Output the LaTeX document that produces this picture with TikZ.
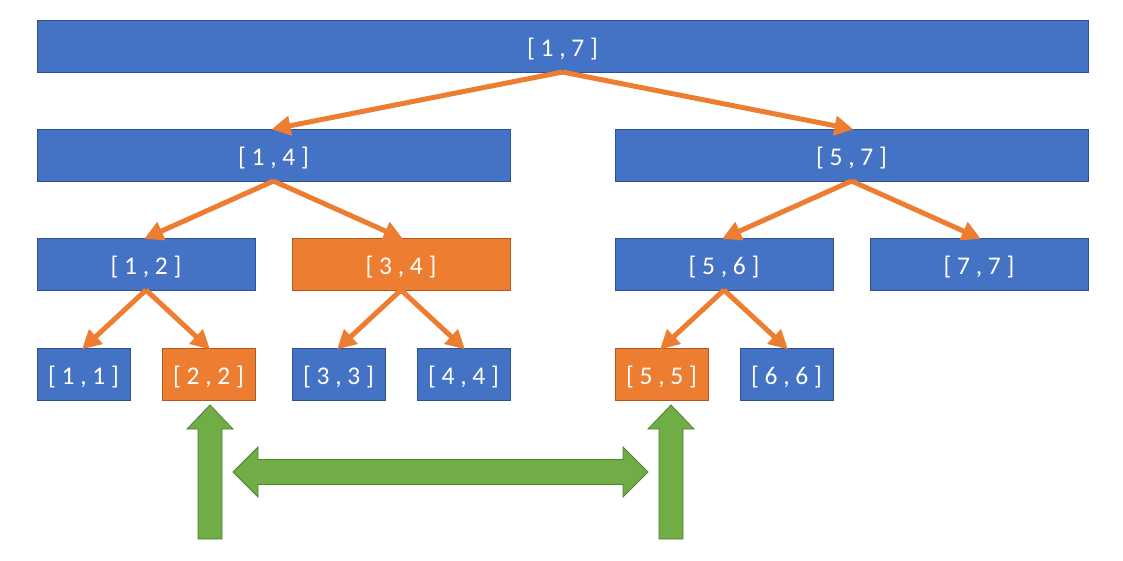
\documentclass[tikz,border=0pt]{standalone}
\usepackage{fontspec}
\setmainfont{Carlito}
\usetikzlibrary{arrows.meta}
\definecolor{bfill}{HTML}{4472C4}
\definecolor{bdraw}{HTML}{2F528F}
\definecolor{ofill}{HTML}{ED7D31}
\definecolor{odraw}{HTML}{AE5A21}
\definecolor{gfill}{HTML}{70AD47}
\definecolor{gdraw}{HTML}{507E32}
\tikzset{
  seg/.style={rectangle, inner sep=0pt, outer sep=0pt, line width=0.8pt, text=white,
     font=\fontsize{25.5}{30}\selectfont, minimum height=52pt, text height=24pt, text depth=4pt},
  bluebox/.style={seg, fill=bfill, draw=bdraw},
  orangebox/.style={seg, fill=ofill, draw=odraw},
  link/.style={draw=ofill, line width=5pt, -{Triangle[length=19pt,width=19pt]}, shorten >=-2pt},
  greenarrow/.style={fill=gfill, draw=gdraw, line width=0.8pt, line join=miter},
}
\begin{document}
\begin{tikzpicture}[x=1pt,y=-1pt]
\useasboundingbox (0,0) rectangle (1123,560);
% level 1
\node[bluebox, minimum width=1051pt] (n17) at (562.5,46) {[ 1 , 7 ]};
% level 2
\node[bluebox, minimum width=473pt] (n14) at (273.5,155) {[ 1 , 4 ]};
\node[bluebox, minimum width=473pt] (n57) at (851.5,155) {[ 5 , 7 ]};
% level 3
\node[bluebox, minimum width=218pt] (n12) at (146,264) {[ 1 , 2 ]};
\node[orangebox, minimum width=218pt] (n34) at (401,264) {[ 3 , 4 ]};
\node[bluebox, minimum width=218pt] (n56) at (724,264) {[ 5 , 6 ]};
\node[bluebox, minimum width=218pt] (n77) at (979,264) {[ 7 , 7 ]};
% level 4
\node[bluebox, minimum width=93pt] (n11) at (83.5,374) {[ 1 , 1 ]};
\node[orangebox, minimum width=93pt] (n22) at (208.5,374) {[ 2 , 2 ]};
\node[bluebox, minimum width=93pt] (n33) at (338.5,374) {[ 3 , 3 ]};
\node[bluebox, minimum width=93pt] (n44) at (463.5,374) {[ 4 , 4 ]};
\node[orangebox, minimum width=93pt] (n55) at (661.5,374) {[ 5 , 5 ]};
\node[bluebox, minimum width=93pt] (n66) at (786.5,374) {[ 6 , 6 ]};
% links
\draw[link] (n17.south) -- (n14.north);
\draw[link] (n17.south) -- (n57.north);
\draw[link] (n14.south) -- (n12.north);
\draw[link] (n14.south) -- (n34.north);
\draw[link] (n57.south) -- (n56.north);
\draw[link] (n57.south) -- (n77.north);
\draw[link] (n12.south) -- (n11.north);
\draw[link] (n12.south) -- (n22.north);
\draw[link] (n34.south) -- (n33.north);
\draw[link] (n34.south) -- (n44.north);
\draw[link] (n56.south) -- (n55.north);
\draw[link] (n56.south) -- (n66.north);
% green arrows
\draw[greenarrow] (210,405) -- (233,429) -- (222,429) -- (222,539) -- (198,539) -- (198,429) -- (187,429) -- cycle;
\draw[greenarrow] (671,405) -- (694,429) -- (683,429) -- (683,539) -- (659,539) -- (659,429) -- (648,429) -- cycle;
\draw[greenarrow] (233,472) -- (258,447) -- (258,459.5) -- (623,459.5) -- (623,447) -- (648,472) -- (623,497) -- (623,484.5) -- (258,484.5) -- (258,497) -- cycle;
\end{tikzpicture}
\end{document}
